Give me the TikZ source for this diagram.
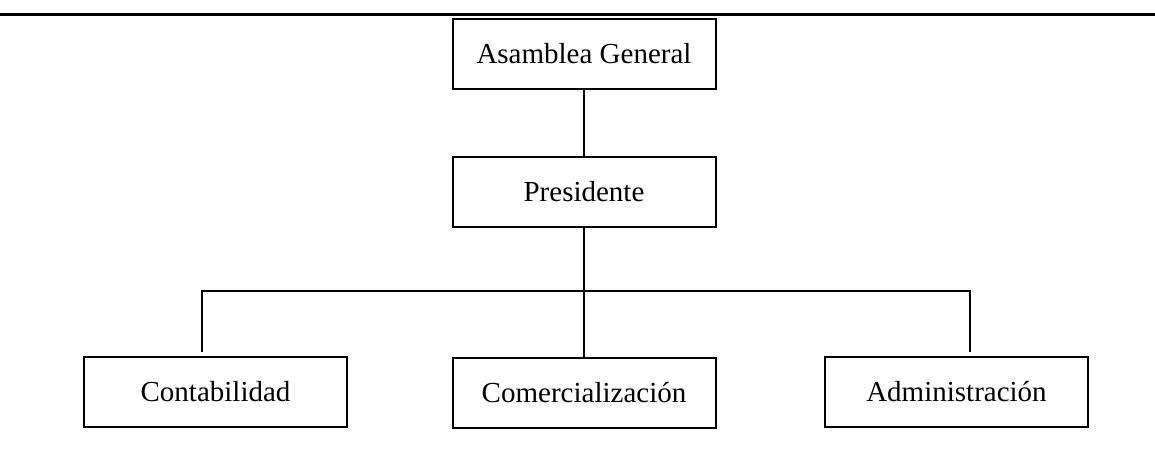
\documentclass[tikz,border=0pt]{standalone}
\usepackage{fontspec}
\setmainfont{Liberation Serif}
\tikzset{caja/.style={draw, line width=1pt, minimum width=131.5pt, minimum height=35pt, inner sep=0pt, font=\fontsize{14.5}{17}\selectfont},
  linea/.style={line width=0.9pt}}
\begin{document}
\begin{tikzpicture}[x=0.5pt,y=-0.5pt]
        \useasboundingbox (0,0) rectangle (1155,466);
        % top rule
        \draw[line width=1.5pt] (0,14) -- (1155,14);
        % boxes
        \node[caja] (asamblea) at (584,53.5) {Asamblea General};
        \node[caja] (presidente) at (584,192) {Presidente};
        \node[caja] (contabilidad) at (215.5,392) {Contabilidad};
        \node[caja] (comercializacion) at (584,392.5) {Comercialización};
        \node[caja] (administracion) at (956.5,392) {Administración};
        % branches
        \coordinate (ramaizq) at (202,291);
        \coordinate (ramader) at (970,291);
        \coordinate (finizq) at (202,352);
        \coordinate (finder) at (970,352);
        \draw[linea] (asamblea) -- (presidente);
        \draw[linea] (presidente) -- (comercializacion);
        \draw[linea] (finizq) -- (ramaizq) -- (ramader) -- (finder);
\end{tikzpicture}
\end{document}
